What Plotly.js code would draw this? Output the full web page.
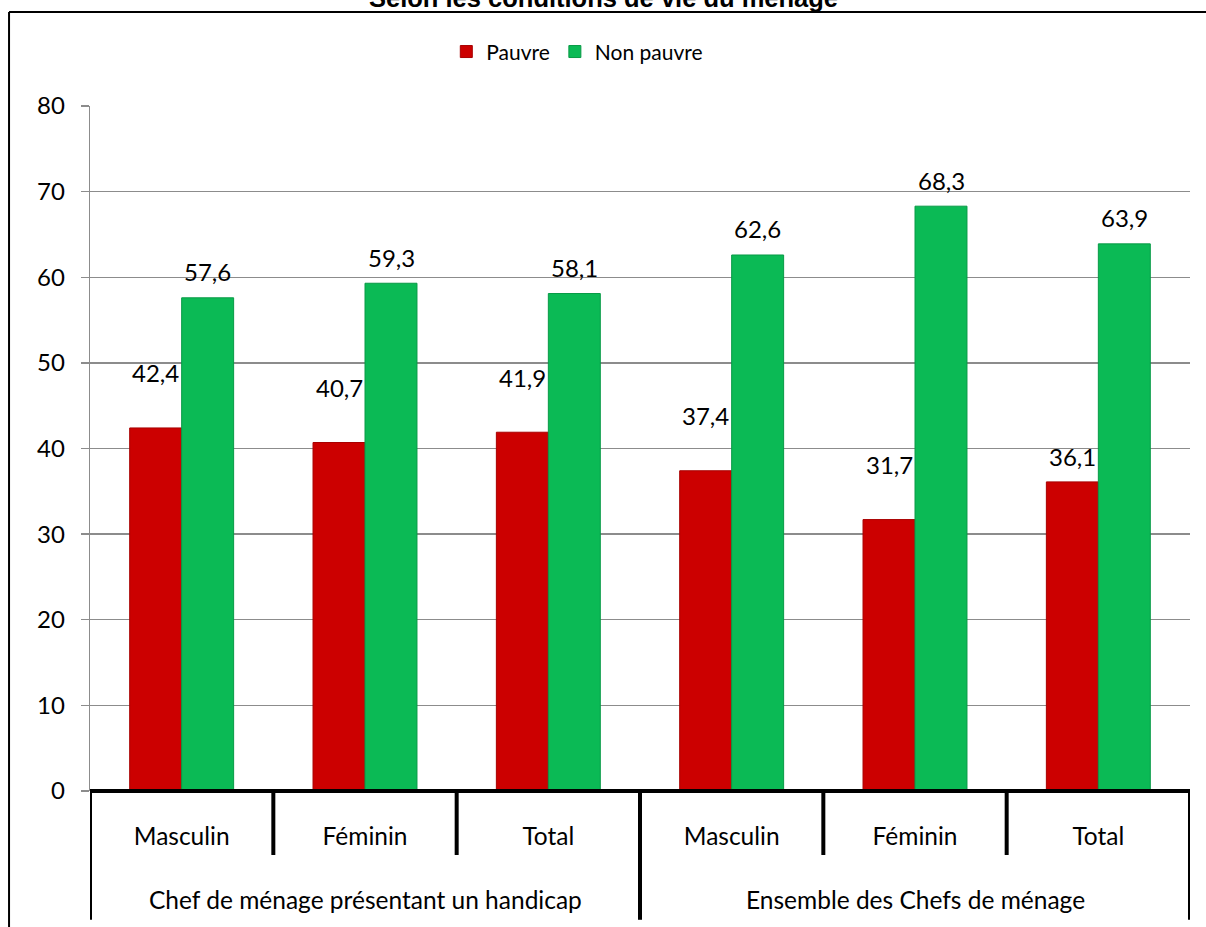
<!DOCTYPE html>
<html><head><meta charset="utf-8">
<script src="https://cdn.plot.ly/plotly-3.0.1.min.js"></script>
<style>html,body{margin:0;padding:0;background:#fff}#c{width:1206px;height:927px}</style>
</head><body><div id="c"></div>
<script>
const titleText = "Selon les conditions de vie du ménage";
const groups = ["Chef de ménage présentant un handicap", "Ensemble des Chefs de ménage"];
const categories = ["Masculin", "Féminin", "Total", "Masculin", "Féminin", "Total"];
const groupOf = [0, 0, 0, 1, 1, 1];
const seriesNames = ["Pauvre", "Non pauvre"];
const pauvre = [42.4, 40.7, 41.9, 37.4, 31.7, 36.1];
const nonPauvre = [57.6, 59.3, 58.1, 62.6, 68.3, 63.9];
const yTicks = [0, 10, 20, 30, 40, 50, 60, 70, 80];

const FONT = "Lato, 'Noto Sans', sans-serif";
const idx = categories.map((_, i) => i);
const fmt = v => v.toFixed(1).replace(".", ",");

const traces = [
  {type: "bar", name: seriesNames[0], x: idx, y: pauvre,
   marker: {color: "#CC0000", line: {color: "#A80000", width: 1}}, hoverinfo: "y"},
  {type: "bar", name: seriesNames[1], x: idx, y: nonPauvre,
   marker: {color: "#0BBA55", line: {color: "#089A46", width: 1}}, hoverinfo: "y"}
];

const annotations = [];
const redLift = [55, 55, 55, 55, 55, 25];
pauvre.forEach((v, i) => annotations.push({x: i, y: v, xref: "x", yref: "y", text: fmt(v),
  showarrow: false, xshift: -26, yshift: redLift[i], yanchor: "middle",
  font: {family: FONT, size: 24, color: "#000"}}));
nonPauvre.forEach((v, i) => annotations.push({x: i, y: v, xref: "x", yref: "y", text: fmt(v),
  showarrow: false, xshift: 26, yshift: 26, yanchor: "middle",
  font: {family: FONT, size: 24, color: "#000"}}));
groups.forEach((g, gi) => {
  const members = idx.filter(i => groupOf[i] === gi);
  const cx = members.reduce((a, b) => a + b, 0) / members.length;
  annotations.push({x: cx, y: -0.159, xref: "x", yref: "paper", text: g, showarrow: false,
    yanchor: "middle", font: {family: FONT, size: 24.5, color: "#000"}});
});
annotations.push({x: 0.4664, y: 1.1345, xref: "paper", yref: "paper", text: "<b>" + titleText + "</b>",
  showarrow: false, yanchor: "bottom", font: {family: "'Liberation Sans', Arial, sans-serif", size: 25.5, color: "#000"}});

const shapes = [];
// outer frame
shapes.push({type: "line", xref: "paper", yref: "paper", x0: -0.0736, x1: 1.2, y0: 1.1372, y1: 1.1372,
  line: {color: "#000", width: 2}});
shapes.push({type: "line", xref: "paper", yref: "paper", x0: -0.0736, x1: -0.0736, y0: 1.1372, y1: -0.4,
  line: {color: "#000", width: 2}});
// thick category axis line
shapes.push({type: "line", xref: "x", yref: "paper", x0: -0.52, x1: 5.52, y0: 0, y1: 0,
  line: {color: "#000", width: 4}});
// inner and outer dividers
for (let i = 0; i <= categories.length; i++) {
  const b = i - 0.5;
  const outer = (i === 0 || i === categories.length || groupOf[i] !== groupOf[i - 1]);
  shapes.push({type: "line", xref: "x", yref: "paper", x0: b, x1: b, y0: 0, y1: outer ? -0.188 : -0.0934,
    line: {color: "#000", width: 4}});
}

const layout = {
  width: 1206, height: 927,
  margin: {l: 90, r: 16, t: 106, b: 136, pad: 0},
  paper_bgcolor: "#fff", plot_bgcolor: "#fff",
  barmode: "group", bargap: 0.433, bargroupgap: 0,
  showlegend: true,
  legend: {orientation: "h", x: 0.443, xanchor: "center", y: 1.079, yanchor: "middle",
    font: {family: FONT, size: 21, color: "#000"}, traceorder: "normal", itemwidth: 30},
  xaxis: {range: [-0.5, 5.5], tickmode: "array", tickvals: idx, ticktext: categories,
    ticks: "", showgrid: false, zeroline: false, showline: false, ticklabelstandoff: 28,
    tickfont: {family: FONT, size: 24.5, color: "#000"}, fixedrange: true},
  yaxis: {range: [0, 80], tickmode: "array", tickvals: yTicks, ticktext: yTicks.map(String),
    showgrid: true, gridcolor: "#8C8C8C", gridwidth: 1.3, zeroline: false,
    showline: true, linecolor: "#8C8C8C", linewidth: 1.3,
    ticks: "outside", ticklen: 8, tickcolor: "#8C8C8C", tickwidth: 1.3, ticklabelstandoff: 11,
    tickfont: {family: FONT, size: 24, color: "#000"}, fixedrange: true},
  annotations: annotations,
  shapes: shapes
};

Plotly.newPlot("c", traces, layout, {displayModeBar: false, staticPlot: true});
</script></body></html>
